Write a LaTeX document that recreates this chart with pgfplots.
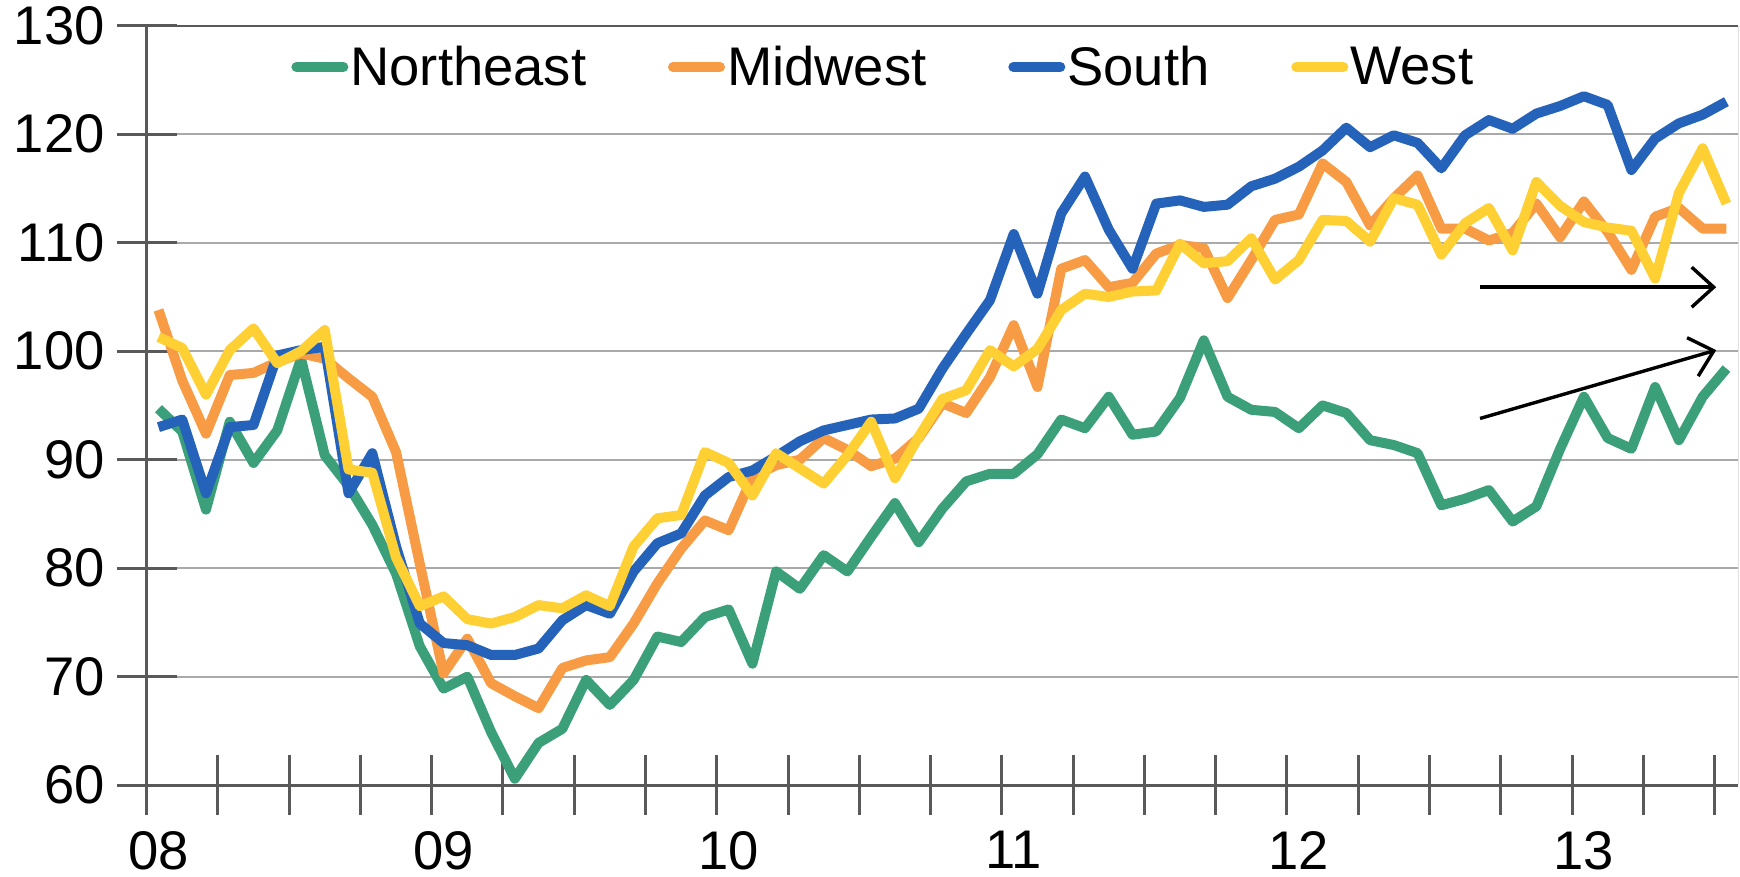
\documentclass[border=0pt]{standalone}
\usepackage{pgfplots}
\usepackage{pgfplotstable}
\pgfplotsset{compat=1.18}
\usepackage{fontspec}
\setmainfont{Liberation Sans}
\usetikzlibrary{arrows.meta}
\definecolor{cNE}{HTML}{3BA07A}
\definecolor{cMW}{HTML}{F79C44}
\definecolor{cSO}{HTML}{2563BA}
\definecolor{cWE}{HTML}{FFD034}
\definecolor{axgray}{HTML}{595959}
\definecolor{grgray}{HTML}{A9A9A9}

\pgfplotstableread{
x ne mw so we
0.5 94.7 103.8 93.0 101.3
1.5 92.6 97.3 93.7 100.3
2.5 85.4 92.4 86.9 96.0
3.5 93.5 97.8 93.0 100.1
4.5 89.7 98.0 93.2 102.1
5.5 92.7 99.0 99.6 98.9
6.5 99.3 99.8 100.1 100.0
7.5 90.4 99.3 100.4 101.95
8.5 87.6 97.5 86.9 89.1
9.5 84.0 95.8 90.6 88.8
10.5 79.5 90.7 82.0 81.0
11.5 72.8 80.4 74.9 76.5
12.5 68.9 70.3 73.1 77.4
13.5 70.0 73.5 72.9 75.3
14.5 64.9 69.4 72.0 74.9
15.5 60.6 68.2 72.0 75.5
16.5 63.9 67.1 72.6 76.6
17.5 65.2 70.8 75.2 76.3
18.5 69.7 71.5 76.6 77.5
19.5 67.4 71.8 75.8 76.5
20.5 69.7 74.9 79.7 82.0
21.5 73.7 78.6 82.3 84.6
22.5 73.2 81.8 83.2 84.9
23.5 75.5 84.4 86.7 90.7
24.5 76.2 83.5 88.4 89.7
25.5 71.2 88.4 89.0 86.7
26.5 79.7 89.5 90.3 90.6
27.5 78.1 90.0 91.7 89.2
28.5 81.2 92.0 92.7 87.8
29.5 79.7 90.9 93.2 90.4
30.5 82.9 89.4 93.7 93.5
31.5 86.0 90.1 93.8 88.3
32.5 82.4 92.0 94.7 92.1
33.5 85.5 95.2 98.4 95.6
34.5 88.0 94.3 101.6 96.4
35.5 88.7 97.6 104.7 100.1
36.5 88.7 102.4 110.8 98.6
37.5 90.5 96.7 105.3 100.2
38.5 93.7 107.6 112.7 103.8
39.5 92.9 108.4 116.1 105.3
40.5 95.8 105.9 111.2 105.0
41.5 92.3 106.3 107.6 105.5
42.5 92.6 109.0 113.6 105.6
43.5 95.7 109.8 113.9 109.9
44.5 101.0 109.5 113.3 108.1
45.5 95.8 104.9 113.5 108.3
46.5 94.6 108.4 115.2 110.4
47.5 94.4 112.1 115.9 106.6
48.5 92.9 112.6 117.0 108.4
49.5 95.0 117.3 118.5 112.1
50.5 94.3 115.6 120.6 112.0
51.5 91.8 111.6 118.8 110.1
52.5 91.35 114.1 119.9 114.1
53.5 90.6 116.2 119.2 113.5
54.5 85.8 111.3 116.85 108.9
55.5 86.4 111.3 119.9 111.8
56.5 87.2 110.2 121.3 113.2
57.5 84.3 110.9 120.5 109.3
58.5 85.7 113.6 121.9 115.6
59.5 91.0 110.5 122.6 113.4
60.5 95.8 113.8 123.5 111.9
61.5 92.0 111.0 122.7 111.4
62.5 91.0 107.5 116.7 111.1
63.5 96.7 112.4 119.6 106.7
64.5 91.8 113.2 121.0 114.6
65.5 95.8 111.3 121.8 118.7
66.5 98.4 111.3 123.0 113.6
}\datatable

\begin{document}
\begin{tikzpicture}
\begin{axis}[
  at={(0,0)}, anchor=south west,
  scale only axis,
  width=795.85pt, height=379.75pt,
  xmin=0, xmax=67, ymin=60, ymax=130,
  axis x line*=bottom, axis y line*=left,
  axis line style={draw=axgray, line width=1.5pt, -},
  xtick={0,3,...,66}, xticklabels={},
  extra x ticks={0.5,12.5,24.5,36.5,48.5,60.5},
  extra x tick labels={08,09,10,11,12,13},
  extra x tick style={major tick length=0pt, grid=none},
  ytick={60,70,...,130},
  tick align=center,
  major tick length=30pt,
  tick style={draw=axgray, line width=1.5pt},
  ymajorgrids,
  grid style={draw=grgray, line width=0.9pt},
  ticklabel style={font=\fontsize{27.2}{31}\selectfont, text=black, inner sep=0pt},
  /pgf/number format/assume math mode=true,
  yticklabel style={anchor=east},
  yticklabel shift=5.8pt,
  xticklabel style={anchor=north},
  xticklabel shift=22.8pt,
  legend columns=4,
  legend cell align=left,
  legend style={at={(axis description cs:0.0907,0.9456)}, anchor=west,
    draw=none, fill=none, inner sep=0pt,
    font=\fontsize{27.2}{31}\selectfont,
    nodes={inner sep=1pt},
    /tikz/every even column/.append style={column sep=39.9pt}},
  legend image code/.code={\draw[#1, line cap=round] (2pt,0pt) -- (25.5pt,0pt);},
  every axis plot/.append style={line width=5pt, line join=round, mark=none},
]
\addplot[cNE] table[x=x,y=ne] {\datatable};
\addlegendentry{Northeast}
\addplot[cMW] table[x=x,y=mw] {\datatable};
\addlegendentry{Midwest}
\addplot[cSO] table[x=x,y=so] {\datatable};
\addlegendentry{South}
\addplot[cWE] table[x=x,y=we] {\datatable};
\addlegendentry{West}
\draw[axgray, line width=1.5pt] (rel axis cs:0,1) -- (rel axis cs:1,1);
\draw[grgray, line width=0.8pt] (rel axis cs:1,0) -- (rel axis cs:1,1);
\draw[black, line width=1.7pt, -{Straight Barb[length=11pt,width=20pt,line width=1.7pt]}] (axis cs:56.13,105.9) -- (axis cs:66.07,105.9);
\draw[black, line width=1.7pt, -{Straight Barb[length=11pt,width=20pt,line width=1.7pt]}] (axis cs:56.13,93.8) -- (axis cs:66.07,100.1);
\end{axis}
\pgfresetboundingbox
\path[use as bounding box] (-73.3pt,-45.9pt) rectangle (796.7pt,392.6pt);
\end{tikzpicture}
\end{document}
